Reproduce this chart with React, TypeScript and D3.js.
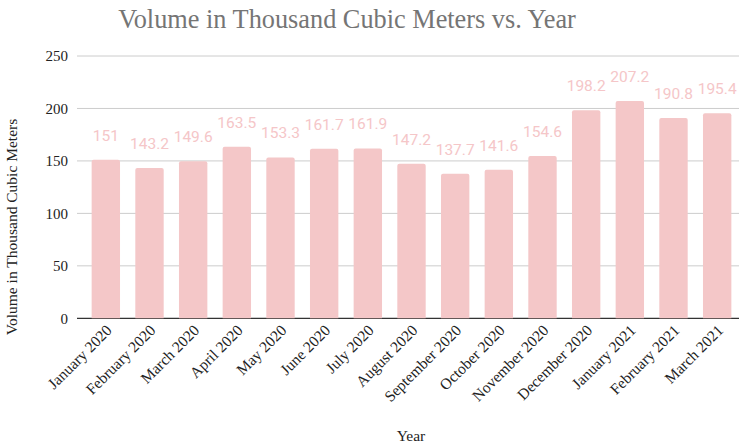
import React, { useEffect, useRef } from "react";
import * as d3 from "d3";

const months = [
  "January 2020",
  "February 2020",
  "March 2020",
  "April 2020",
  "May 2020",
  "June 2020",
  "July 2020",
  "August 2020",
  "September 2020",
  "October 2020",
  "November 2020",
  "December 2020",
  "January 2021",
  "February 2021",
  "March 2021",
];
const volumes = [151, 143.2, 149.6, 163.5, 153.3, 161.7, 161.9, 147.2, 137.7, 141.6, 154.6, 198.2, 207.2, 190.8, 195.4];
const yTicks = [0, 50, 100, 150, 200, 250];

const W = 739;
const H = 446;

function BarChart() {
  const ref = useRef<SVGSVGElement>(null);

  useEffect(() => {
    const svg = d3.select(ref.current);
    svg.selectAll("*").remove();

    const gridLeft = 77;
    const x = d3.scaleBand().domain(months).range([84, 739]).paddingInner(0.35).paddingOuter(0.175);
    const y = d3.scaleLinear().domain([0, 250]).range([318.3, 56]);

    // title
    svg
      .append("text")
      .attr("x", 347)
      .attr("y", 28)
      .attr("text-anchor", "middle")
      .attr("font-family", "'Liberation Serif', 'Times New Roman', serif")
      .attr("font-size", 26.3)
      .attr("fill", "#757575")
      .text("Volume in Thousand Cubic Meters vs. Year");

    // gridlines
    svg
      .append("g")
      .selectAll("line")
      .data(yTicks.filter((t) => t > 0))
      .enter()
      .append("line")
      .attr("x1", gridLeft)
      .attr("x2", W)
      .attr("y1", (d) => y(d))
      .attr("y2", (d) => y(d))
      .attr("stroke", "#cccccc")
      .attr("stroke-width", 1);

    // y tick labels
    svg
      .append("g")
      .selectAll("text")
      .data(yTicks)
      .enter()
      .append("text")
      .attr("x", 68)
      .attr("y", (d) => y(d))
      .attr("dy", "0.35em")
      .attr("text-anchor", "end")
      .attr("font-family", "'Liberation Serif', serif")
      .attr("font-size", 15)
      .attr("fill", "#222")
      .text((d) => d);

    // baseline
    svg
      .append("line")
      .attr("x1", gridLeft)
      .attr("x2", W)
      .attr("y1", y(0))
      .attr("y2", y(0))
      .attr("stroke", "#333")
      .attr("stroke-width", 1.2);

    // bars
    svg
      .append("g")
      .selectAll("path")
      .data(months)
      .enter()
      .append("path")
      .attr("d", (d, i) => {
        const x0 = x(d)!;
        const w = x.bandwidth();
        const top = y(volumes[i]);
        const bot = y(0);
        const r = 2;
        return `M${x0},${bot}V${top + r}Q${x0},${top} ${x0 + r},${top}H${x0 + w - r}Q${x0 + w},${top} ${x0 + w},${top + r}V${bot}Z`;
      })
      .attr("fill", "#f4c7c8");

    // value labels
    svg
      .append("g")
      .selectAll("text")
      .data(months)
      .enter()
      .append("text")
      .attr("x", (d) => x(d)! + x.bandwidth() / 2)
      .attr("y", (d, i) => y(volumes[i]) - 19)
      .attr("text-anchor", "middle")
      .attr("font-family", "Roboto, 'Noto Sans', sans-serif")
      .attr("font-size", 15.5)
      .attr("fill", "#f5c6c8")
      .text((d, i) => volumes[i]);

    // x tick labels
    svg
      .append("g")
      .selectAll("text")
      .data(months)
      .enter()
      .append("text")
      .attr("transform", (d) => `translate(${x(d)! + x.bandwidth() / 2 + 7},${y(0) + 13}) rotate(-45)`)
      .attr("text-anchor", "end")
      .attr("font-family", "'Liberation Serif', serif")
      .attr("font-size", 15.5)
      .attr("fill", "#222")
      .text((d) => d);

    // axis titles
    svg
      .append("text")
      .attr("x", 411)
      .attr("y", 441)
      .attr("text-anchor", "middle")
      .attr("font-family", "'Liberation Serif', serif")
      .attr("font-size", 15.5)
      .attr("fill", "#222")
      .text("Year");

    svg
      .append("text")
      .attr("transform", "translate(17,227) rotate(-90)")
      .attr("text-anchor", "middle")
      .attr("font-family", "'Liberation Serif', serif")
      .attr("font-size", 15.5)
      .attr("fill", "#222")
      .text("Volume in Thousand Cubic Meters");
  }, []);

  return <svg ref={ref} width={W} height={H} style={{ display: "block" }}></svg>;
}

export default function App() {
  return (
    <div style={{ position: "absolute", left: 0, top: 0, width: W, height: H, background: "#fff", overflow: "hidden" }}>
      <BarChart />
    </div>
  );
}
